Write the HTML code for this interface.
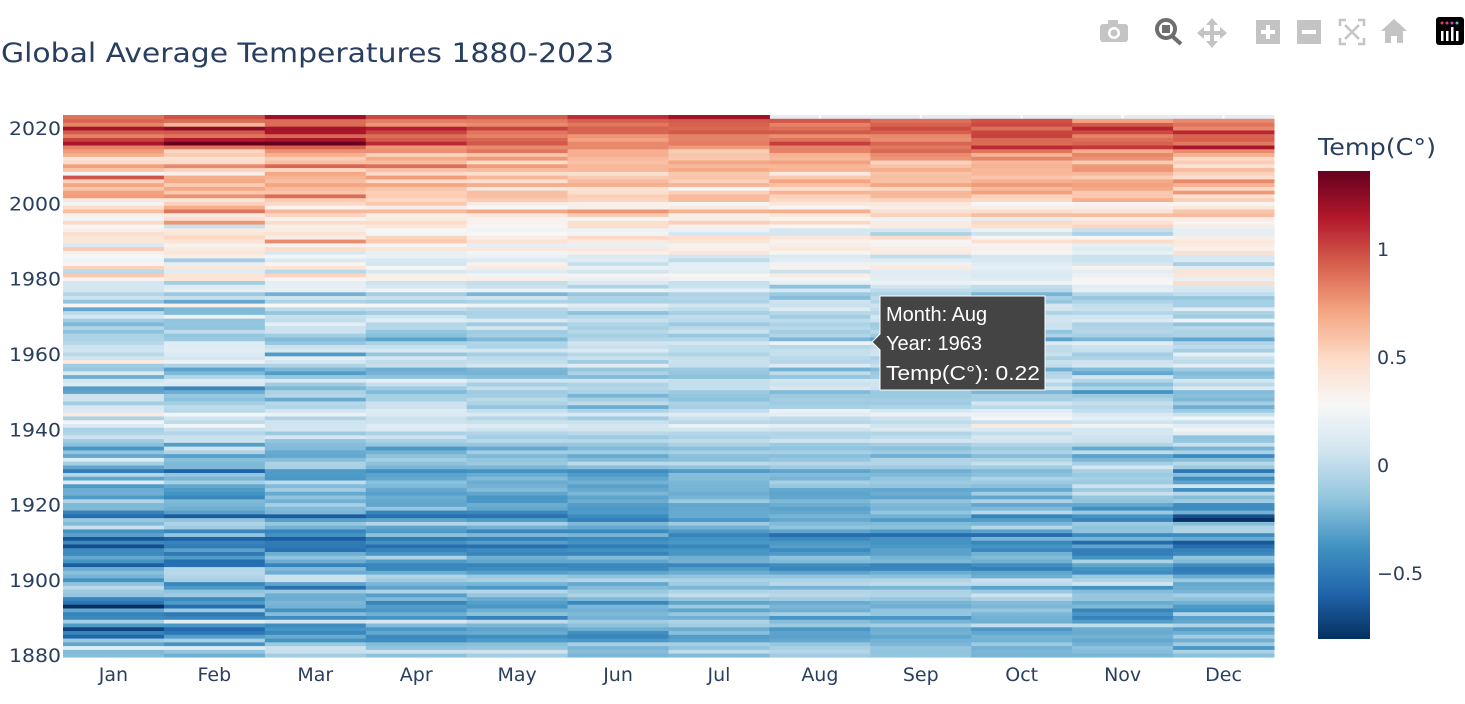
<!DOCTYPE html>
<html><head><meta charset="utf-8">
<style>
body{margin:0;background:#fff;width:1465px;height:700px;overflow:hidden;font-family:"DejaVu Sans",sans-serif;}
svg text{font-family:"DejaVu Sans",sans-serif;}
svg text.tt{font-family:"Liberation Sans",sans-serif;}
</style></head>
<body>
<svg id="chart" width="1465" height="700" xmlns="http://www.w3.org/2000/svg">
<text x="1" y="62" font-size="27" fill="#2a3f5f" textLength="613" lengthAdjust="spacingAndGlyphs">Global Average Temperatures 1880-2023</text>
<g id="modebar" fill="#c4c4c4">
 <g><rect x="1100" y="24" width="28" height="18" rx="3"/><rect x="1108" y="20" width="10" height="6" rx="1"/><circle cx="1114" cy="33" r="6" fill="#fff"/><circle cx="1114" cy="33" r="3.5"/></g>
 <g><circle cx="1166" cy="29" r="9" fill="none" stroke="#6e6e6e" stroke-width="4"/><rect x="1162" y="25" width="8" height="8" fill="#6e6e6e"/><line x1="1172" y1="36" x2="1181" y2="44" stroke="#6e6e6e" stroke-width="4"/></g>
 <g><path d="M1212 18 l6 7 h-4 v6 h6 v-4 l7 6 -7 6 v-4 h-6 v6 h4 l-6 7 -6 -7 h4 v-6 h-6 v4 l-7 -6 7 -6 v4 h6 v-6 h-4z"/></g>
 <g><rect x="1256" y="20" width="24" height="24"/><rect x="1266" y="25" width="4" height="14" fill="#fff"/><rect x="1261" y="30" width="14" height="4" fill="#fff"/></g>
 <g><rect x="1297" y="20" width="24" height="24"/><rect x="1302" y="30" width="14" height="4" fill="#fff"/></g>
 <g fill="none" stroke="#c4c4c4" stroke-width="2.5"><path d="M1340 26 v-6 h6 M1358 20 h6 v6 M1364 38 v6 h-6 M1346 44 h-6 v-6 M1345 25 l14 14 M1359 25 l-14 14"/></g>
 <g><path d="M1394 19 l13 12 h-4 v12 h-6 v-7 h-6 v7 h-6 v-12 h-4z"/></g>
 <g><rect x="1436" y="17" width="28" height="28" rx="3" fill="#000"/><rect x="1441" y="31" width="2.5" height="10" fill="#fff"/><rect x="1446" y="31" width="2.5" height="10" fill="#fff"/><rect x="1451" y="27" width="2.5" height="14" fill="#fff"/><rect x="1456" y="31" width="2.5" height="10" fill="#fff"/><circle cx="1442" cy="23" r="1.5" fill="#e23b6b"/><circle cx="1447" cy="23" r="1.5" fill="#e23b6b"/><circle cx="1452" cy="23" r="1.5" fill="#b54bd6"/><circle cx="1457" cy="23" r="1.5" fill="#3fc1e0"/></g>
</g>
<rect x="63" y="115" width="1211" height="543" fill="#E5ECF6"/>
<g id="grid"></g>
<g id="cells"></g>
<g id="yaxis"></g>
<g id="xaxis"></g>
<defs><linearGradient id="cbgrad" x1="0" y1="1" x2="0" y2="0"></linearGradient></defs>
<text x="1318" y="155" font-size="23" fill="#2a3f5f" textLength="118" lengthAdjust="spacingAndGlyphs">Temp(C°)</text>
<rect x="1318" y="171" width="52" height="468" fill="url(#cbgrad)"/>
<g id="cbticks"></g>
<g>
 <path d="M880 296 h165 v94 h-165 v-40 l-8 -8 8 -8z" fill="#444" stroke="#fff" stroke-width="1"/>
 <text class="tt" x="886" y="321" font-size="20" fill="#fff">Month: Aug</text>
 <text class="tt" x="886" y="350" font-size="20" fill="#fff">Year: 1963</text>
 <text class="tt" x="886" y="380" font-size="20" fill="#fff" textLength="154" lengthAdjust="spacingAndGlyphs">Temp(C°): 0.22</text>
</g>
</svg>
<script>
const months=["Jan","Feb","Mar","Apr","May","Jun","Jul","Aug","Sep","Oct","Nov","Dec"];
const startYear=1880;
const yTicks=[1880,1900,1920,1940,1960,1980,2000,2020];
const cbTicks=[-0.5,0,0.5,1];
const cbTickLabels=["\u22120.5","0","0.5","1"];
const zMin=-0.806, zMax=1.36;
const temps=[
[-0.19,-0.25,-0.10,-0.17,-0.10,-0.22,-0.20,-0.11,-0.15,-0.23,-0.22,-0.18],
[-0.20,-0.15,0.03,0.05,0.05,-0.19,0.00,-0.04,-0.16,-0.22,-0.19,-0.07],
[0.16,0.13,0.04,-0.16,-0.14,-0.22,-0.16,-0.08,-0.15,-0.24,-0.17,-0.36],
[-0.29,-0.37,-0.13,-0.19,-0.18,-0.08,-0.08,-0.14,-0.22,-0.12,-0.24,-0.11],
[-0.13,-0.08,-0.37,-0.40,-0.34,-0.35,-0.31,-0.28,-0.24,-0.24,-0.28,-0.25],
[-0.59,-0.33,-0.27,-0.42,-0.39,-0.44,-0.33,-0.31,-0.29,-0.23,-0.24,-0.10],
[-0.44,-0.51,-0.43,-0.28,-0.27,-0.39,-0.18,-0.30,-0.24,-0.28,-0.27,-0.25],
[-0.72,-0.57,-0.36,-0.35,-0.30,-0.25,-0.26,-0.35,-0.26,-0.35,-0.26,-0.33],
[-0.34,-0.36,-0.41,-0.20,-0.22,-0.17,-0.10,-0.12,-0.09,0.02,0.00,-0.05],
[-0.09,0.16,0.06,0.10,-0.01,-0.10,-0.07,-0.19,-0.23,-0.25,-0.33,-0.29],
[-0.42,-0.45,-0.41,-0.37,-0.46,-0.24,-0.25,-0.36,-0.36,-0.24,-0.45,-0.31],
[-0.45,-0.50,-0.19,-0.25,-0.17,-0.21,-0.14,-0.09,-0.15,-0.22,-0.36,-0.05],
[-0.28,-0.13,-0.38,-0.35,-0.25,-0.24,-0.30,-0.25,-0.16,-0.14,-0.44,-0.37],
[-0.81,-0.56,-0.24,-0.33,-0.36,-0.22,-0.12,-0.22,-0.25,-0.22,-0.21,-0.34],
[-0.52,-0.34,-0.22,-0.44,-0.32,-0.43,-0.30,-0.27,-0.23,-0.20,-0.27,-0.24],
[-0.44,-0.42,-0.26,-0.20,-0.27,-0.20,-0.14,-0.10,-0.14,-0.07,-0.14,-0.17],
[-0.15,-0.11,-0.26,-0.32,-0.15,-0.06,0.01,-0.03,-0.05,0.05,-0.14,-0.09],
[-0.12,-0.16,-0.13,-0.06,-0.04,-0.13,-0.06,-0.05,-0.06,-0.13,-0.19,-0.23],
[-0.02,-0.34,-0.54,-0.30,-0.35,-0.19,-0.22,-0.23,-0.22,-0.31,-0.37,-0.26],
[-0.16,-0.43,-0.30,-0.22,-0.23,-0.28,-0.11,-0.03,-0.01,-0.01,0.06,-0.28],
[-0.37,-0.08,0.04,-0.11,-0.08,-0.04,-0.07,-0.06,-0.05,0.04,-0.06,-0.13],
[-0.23,-0.05,0.04,-0.05,-0.13,-0.17,-0.16,-0.16,-0.18,-0.26,-0.13,-0.27],
[-0.18,-0.02,-0.26,-0.26,-0.32,-0.30,-0.26,-0.30,-0.26,-0.29,-0.40,-0.46],
[-0.26,-0.04,-0.20,-0.43,-0.40,-0.42,-0.33,-0.44,-0.43,-0.47,-0.37,-0.49],
[-0.63,-0.54,-0.45,-0.43,-0.45,-0.43,-0.43,-0.40,-0.44,-0.39,-0.29,-0.40],
[-0.37,-0.55,-0.26,-0.34,-0.29,-0.29,-0.24,-0.20,-0.21,-0.25,-0.07,-0.20],
[-0.28,-0.34,-0.16,-0.06,-0.25,-0.20,-0.25,-0.17,-0.24,-0.20,-0.38,-0.16],
[-0.42,-0.50,-0.25,-0.36,-0.44,-0.44,-0.36,-0.34,-0.31,-0.24,-0.47,-0.42],
[-0.41,-0.31,-0.53,-0.44,-0.40,-0.38,-0.36,-0.41,-0.31,-0.43,-0.47,-0.46],
[-0.69,-0.48,-0.50,-0.55,-0.54,-0.49,-0.43,-0.33,-0.35,-0.37,-0.30,-0.55],
[-0.42,-0.45,-0.49,-0.38,-0.33,-0.37,-0.35,-0.35,-0.37,-0.43,-0.57,-0.65],
[-0.65,-0.61,-0.62,-0.49,-0.46,-0.42,-0.38,-0.42,-0.37,-0.23,-0.23,-0.27],
[-0.31,-0.15,-0.38,-0.17,-0.21,-0.23,-0.45,-0.55,-0.56,-0.56,-0.41,-0.40],
[-0.38,-0.43,-0.44,-0.34,-0.43,-0.42,-0.34,-0.30,-0.34,-0.31,-0.16,-0.05],
[0.03,-0.11,-0.24,-0.30,-0.24,-0.28,-0.24,-0.16,-0.17,-0.04,-0.16,-0.06],
[-0.20,-0.06,-0.14,-0.04,-0.08,-0.21,-0.12,-0.20,-0.20,-0.22,-0.12,-0.19],
[-0.13,-0.16,-0.32,-0.30,-0.34,-0.47,-0.35,-0.28,-0.34,-0.33,-0.45,-0.80],
[-0.55,-0.64,-0.63,-0.54,-0.53,-0.41,-0.27,-0.23,-0.24,-0.45,-0.37,-0.68],
[-0.46,-0.32,-0.22,-0.44,-0.43,-0.34,-0.27,-0.28,-0.15,-0.03,-0.13,-0.24],
[-0.21,-0.25,-0.20,-0.14,-0.28,-0.35,-0.28,-0.31,-0.23,-0.21,-0.39,-0.41],
[-0.21,-0.23,-0.09,-0.29,-0.26,-0.33,-0.29,-0.26,-0.21,-0.28,-0.28,-0.40],
[-0.05,-0.20,-0.24,-0.28,-0.35,-0.26,-0.12,-0.21,-0.16,-0.06,-0.16,-0.11],
[-0.34,-0.43,-0.16,-0.26,-0.36,-0.30,-0.23,-0.29,-0.30,-0.29,-0.14,-0.19],
[-0.25,-0.37,-0.27,-0.32,-0.29,-0.22,-0.26,-0.30,-0.26,-0.10,0.03,-0.03],
[-0.26,-0.34,-0.10,-0.28,-0.20,-0.28,-0.23,-0.28,-0.28,-0.28,-0.12,-0.39],
[-0.34,-0.28,-0.20,-0.21,-0.24,-0.31,-0.23,-0.14,-0.16,-0.18,0.04,0.07],
[0.13,-0.08,-0.01,-0.18,-0.26,-0.24,-0.22,-0.08,-0.12,-0.12,-0.12,-0.30],
[-0.30,-0.22,-0.35,-0.28,-0.20,-0.29,-0.19,-0.23,-0.15,-0.06,-0.09,-0.40],
[-0.04,-0.15,-0.34,-0.31,-0.27,-0.34,-0.19,-0.20,-0.21,-0.18,-0.13,-0.18],
[-0.48,-0.60,-0.34,-0.39,-0.37,-0.40,-0.34,-0.30,-0.25,-0.20,-0.08,-0.51],
[-0.29,-0.21,-0.08,-0.22,-0.22,-0.18,-0.16,-0.11,-0.11,-0.10,0.08,-0.12],
[-0.09,-0.21,-0.07,-0.17,-0.13,-0.02,-0.02,-0.04,-0.05,0.02,-0.09,-0.03],
[0.13,-0.18,-0.19,-0.09,-0.15,-0.20,-0.18,-0.14,-0.05,-0.07,-0.22,-0.19],
[-0.28,-0.32,-0.28,-0.17,-0.21,-0.27,-0.18,-0.18,-0.25,-0.19,-0.31,-0.42],
[-0.16,-0.06,-0.27,-0.24,-0.10,-0.11,-0.08,-0.09,-0.11,-0.07,-0.01,-0.07],
[-0.36,0.06,-0.20,-0.35,-0.28,-0.20,-0.18,-0.16,-0.17,-0.12,-0.28,-0.23],
[-0.18,-0.33,-0.19,-0.14,-0.14,-0.14,-0.07,-0.13,-0.10,-0.05,-0.05,0.03],
[-0.11,0.04,-0.16,-0.08,-0.03,-0.03,0.00,0.05,0.07,0.06,0.04,-0.15],
[0.05,0.03,0.09,0.05,-0.10,-0.12,-0.07,-0.04,0.00,0.10,0.05,-0.16],
[-0.05,-0.04,-0.13,-0.07,-0.05,-0.02,-0.04,-0.05,-0.05,0.01,0.09,0.16],
[-0.08,0.02,0.06,0.12,0.05,0.07,0.06,0.05,0.12,0.12,0.08,0.24],
[0.11,0.25,0.06,0.14,0.13,0.08,0.20,0.17,0.06,0.37,0.23,0.16],
[0.26,0.00,0.06,0.05,0.04,0.04,-0.02,-0.03,0.00,0.03,0.06,0.02],
[-0.07,0.06,-0.06,0.04,-0.04,-0.11,0.04,0.00,0.05,0.26,0.17,0.25],
[0.37,0.25,0.21,0.12,0.11,0.10,0.14,0.17,0.22,0.21,0.12,0.04],
[0.11,-0.03,0.06,0.13,0.02,-0.06,0.01,0.21,0.10,0.14,0.01,-0.13],
[0.09,0.00,-0.05,0.05,-0.15,-0.26,-0.08,-0.08,-0.06,-0.02,-0.03,-0.25],
[-0.10,-0.09,-0.03,0.05,-0.06,-0.01,-0.07,-0.11,-0.11,0.07,0.02,-0.10],
[0.05,-0.17,-0.27,-0.08,-0.02,-0.09,-0.17,-0.10,-0.10,-0.09,-0.07,-0.21],
[0.05,-0.14,-0.04,-0.09,-0.10,-0.22,-0.15,-0.12,-0.13,-0.08,-0.13,-0.18],
[-0.30,-0.26,-0.07,-0.20,-0.11,-0.07,-0.12,-0.20,-0.13,-0.22,-0.37,-0.20],
[-0.33,-0.43,-0.21,-0.11,0.02,-0.04,0.02,0.10,0.05,0.08,-0.06,0.11],
[0.13,0.12,-0.11,0.02,-0.09,-0.06,0.02,0.04,0.06,-0.04,-0.18,-0.02],
[0.07,0.13,0.11,0.18,0.06,0.06,0.02,0.08,0.07,0.07,-0.05,0.07],
[-0.26,-0.05,-0.15,-0.17,-0.19,-0.20,-0.17,-0.15,-0.10,-0.03,0.07,-0.17],
[0.12,-0.21,-0.33,-0.23,-0.23,-0.07,-0.14,0.00,-0.12,-0.05,-0.28,-0.20],
[-0.14,-0.31,-0.21,-0.26,-0.22,-0.14,-0.13,-0.24,-0.19,-0.25,-0.20,-0.11],
[-0.11,-0.06,-0.06,0.02,0.08,0.16,0.02,0.11,0.03,0.01,0.07,0.15],
[0.38,0.21,0.08,0.00,0.01,-0.11,0.04,-0.04,-0.03,0.03,0.05,-0.01],
[0.06,0.08,0.17,0.09,-0.01,0.04,0.02,-0.02,-0.06,-0.07,-0.06,0.03],
[-0.02,0.11,-0.34,-0.15,-0.09,-0.03,-0.05,0.02,0.06,0.03,-0.10,0.18],
[0.06,0.16,0.09,0.10,0.08,0.11,0.00,0.02,0.05,0.00,0.02,-0.09],
[0.05,0.14,0.04,0.02,-0.06,0.03,0.01,-0.03,0.00,0.00,0.05,0.00],
[-0.03,0.14,-0.14,-0.07,-0.05,0.06,0.07,0.22,0.15,0.11,0.14,-0.05],
[-0.06,-0.13,-0.20,-0.31,-0.21,-0.04,-0.04,-0.22,-0.30,-0.31,-0.22,-0.29],
[-0.07,-0.15,-0.10,-0.18,-0.09,-0.09,-0.14,-0.05,-0.12,-0.06,-0.08,-0.07],
[-0.17,-0.01,0.05,-0.15,-0.11,-0.03,0.04,-0.10,-0.03,-0.16,-0.04,-0.06],
[-0.05,-0.16,0.04,-0.03,0.08,-0.08,-0.02,-0.03,-0.09,0.04,-0.05,-0.03],
[-0.21,-0.15,0.17,-0.04,-0.11,-0.05,-0.12,-0.07,-0.11,0.04,-0.07,-0.16],
[-0.11,-0.16,0.01,0.14,0.12,0.03,-0.02,0.00,0.04,0.06,0.12,0.23],
[0.09,0.22,0.02,0.06,-0.06,-0.02,0.01,-0.10,0.08,0.05,0.06,-0.11],
[-0.02,-0.20,-0.15,-0.10,-0.07,-0.17,-0.09,-0.03,-0.03,-0.06,-0.04,-0.07],
[-0.28,-0.21,0.00,0.01,-0.04,0.05,0.00,0.13,0.01,0.07,0.03,0.16],
[0.30,0.34,0.28,0.26,0.21,0.16,0.07,0.03,0.05,0.09,0.01,-0.09],
[-0.16,-0.28,-0.06,-0.09,-0.06,-0.07,-0.06,0.05,-0.04,-0.14,-0.06,-0.09],
[0.05,0.03,0.06,0.04,0.06,-0.05,-0.04,-0.19,-0.01,-0.08,-0.14,-0.14],
[-0.04,-0.13,-0.24,-0.10,-0.22,-0.14,-0.06,-0.13,-0.07,-0.23,-0.04,0.01],
[0.08,0.18,0.20,0.24,0.21,0.21,0.17,0.08,-0.01,-0.03,0.18,0.08],
[0.08,0.13,0.18,0.10,0.03,-0.06,0.04,-0.17,0.06,0.01,0.15,0.10],
[0.09,-0.10,0.17,0.05,0.01,0.12,0.02,0.18,0.22,0.24,0.26,0.48],
[0.31,0.42,0.29,0.33,0.35,0.19,0.23,0.25,0.16,0.14,0.30,0.18],
[0.57,0.42,0.52,0.34,0.24,0.30,0.30,0.36,0.15,0.11,0.21,0.40],
[-0.02,0.14,-0.03,0.10,0.13,0.06,0.15,0.04,0.14,0.13,0.16,0.43],
[0.53,0.41,0.42,0.29,0.37,0.20,0.17,0.32,0.38,0.18,0.32,0.16],
[0.31,0.17,0.31,0.08,0.32,0.02,0.17,0.22,0.22,0.15,0.09,-0.08],
[0.23,-0.10,0.11,0.10,0.11,0.14,0.00,0.16,0.13,0.10,0.04,0.12],
[0.27,0.35,0.25,0.20,0.20,0.12,0.07,0.11,0.01,0.09,0.04,0.09],
[0.32,0.41,0.10,0.19,0.25,0.33,0.40,0.26,0.36,0.29,0.20,0.45],
[0.56,0.38,0.48,0.41,0.40,0.39,0.34,0.39,0.36,0.33,0.13,0.33],
[0.12,0.32,0.32,0.30,0.17,0.20,0.32,0.35,0.32,0.31,0.18,0.38],
[0.41,0.43,0.79,0.56,0.44,0.37,0.42,0.33,0.29,0.45,0.49,0.41],
[0.41,0.51,0.35,0.53,0.36,0.50,0.46,0.41,0.47,0.30,0.28,0.34],
[0.47,0.42,0.44,0.25,0.28,0.24,0.08,0.09,-0.07,0.05,-0.06,0.17],
[0.35,0.37,0.36,0.28,0.23,0.22,0.21,0.09,0.09,0.21,0.02,0.17],
[0.26,0.03,0.34,0.41,0.29,0.47,0.33,0.27,0.37,0.45,0.52,0.36],
[0.50,0.76,0.48,0.48,0.32,0.47,0.54,0.51,0.37,0.50,0.44,0.31],
[0.25,0.46,0.31,0.37,0.32,0.28,0.35,0.30,0.23,0.16,0.35,0.36],
[0.33,0.37,0.52,0.34,0.39,0.56,0.34,0.41,0.53,0.61,0.61,0.62],
[0.61,0.86,0.63,0.63,0.70,0.76,0.66,0.67,0.45,0.47,0.44,0.58],
[0.48,0.68,0.32,0.35,0.28,0.34,0.37,0.30,0.35,0.35,0.35,0.41],
[0.24,0.53,0.50,0.57,0.37,0.34,0.29,0.41,0.40,0.27,0.31,0.29],
[0.41,0.42,0.56,0.50,0.56,0.52,0.62,0.50,0.52,0.50,0.68,0.54],
[0.74,0.77,0.89,0.55,0.60,0.54,0.62,0.53,0.63,0.53,0.57,0.43],
[0.72,0.57,0.58,0.54,0.61,0.47,0.54,0.65,0.64,0.72,0.57,0.75],
[0.58,0.70,0.62,0.58,0.39,0.44,0.27,0.45,0.50,0.63,0.70,0.50],
[0.71,0.55,0.71,0.71,0.68,0.67,0.65,0.60,0.71,0.74,0.72,0.66],
[0.53,0.70,0.61,0.49,0.46,0.62,0.53,0.71,0.60,0.67,0.70,0.80],
[0.97,0.68,0.65,0.74,0.64,0.56,0.59,0.57,0.61,0.58,0.55,0.47],
[0.26,0.35,0.70,0.49,0.47,0.45,0.57,0.38,0.59,0.64,0.64,0.53],
[0.59,0.52,0.50,0.60,0.62,0.64,0.70,0.65,0.68,0.63,0.76,0.62],
[0.73,0.80,0.91,0.88,0.74,0.64,0.63,0.64,0.59,0.66,0.75,0.44],
[0.49,0.48,0.60,0.61,0.49,0.60,0.71,0.72,0.52,0.63,0.55,0.55],
[0.43,0.44,0.55,0.69,0.75,0.62,0.57,0.63,0.76,0.81,0.77,0.49],
[0.68,0.56,0.67,0.53,0.58,0.67,0.58,0.66,0.79,0.66,0.81,0.67],
[0.74,0.51,0.77,0.78,0.86,0.67,0.55,0.82,0.90,0.86,0.68,0.79],
[0.82,0.86,0.92,0.75,0.79,0.80,0.74,0.82,0.85,1.09,1.05,1.17],
[1.17,1.36,1.36,1.09,0.95,0.80,0.84,1.03,0.91,0.89,0.92,0.85],
[1.02,1.14,1.17,0.94,0.91,0.72,0.82,0.87,0.78,0.90,0.88,0.93],
[0.82,0.86,0.90,0.88,0.82,0.76,0.82,0.78,0.80,1.02,0.82,0.91],
[0.94,0.95,1.17,1.01,0.86,0.91,0.95,0.95,0.93,1.01,0.99,1.10],
[1.18,1.25,1.18,1.13,1.02,0.92,0.90,0.88,0.99,0.88,1.11,0.80],
[0.81,0.64,0.89,0.76,0.79,0.85,0.92,0.82,0.92,1.00,0.94,0.86],
[0.91,0.89,0.89,0.83,0.84,0.92,0.94,0.95,0.88,0.97,0.72,0.80],
[0.87,0.97,1.20,1.00,0.94,1.08,1.19,null,null,null,null,null]
];
const scale=[[5,48,97],[33,102,172],[67,147,195],[146,197,222],[209,229,240],[247,247,247],[253,219,199],[244,165,130],[214,96,77],[178,24,43],[103,0,31]];
function color(v){let t=(v-zMin)/(zMax-zMin);t=Math.max(0,Math.min(1,t));const p=t*(scale.length-1);const i=Math.min(scale.length-2,Math.floor(p));const f=p-i;const a=scale[i],b=scale[i+1];return `rgb(${Math.round(a[0]+(b[0]-a[0])*f)},${Math.round(a[1]+(b[1]-a[1])*f)},${Math.round(a[2]+(b[2]-a[2])*f)})`;}
const NS="http://www.w3.org/2000/svg";
const X0=63,X1=1274,Y0=115,Y1=657;
const nYears=temps.length;
const colW=(X1-X0)/months.length;
const rowH=(Y1-Y0)/nYears;
function xScale(m){return X0+m*colW;}
function yScale(yr){return Y1-(yr-startYear+0.5)*rowH;}
function cbScale(v){return 639-(v-zMin)/(zMax-zMin)*468;}
const grid=document.getElementById('grid');
months.forEach((m,i)=>{const l=document.createElementNS(NS,'line');l.setAttribute('x1',xScale(i+0.5));l.setAttribute('x2',xScale(i+0.5));l.setAttribute('y1',Y0);l.setAttribute('y2',Y1);l.setAttribute('stroke','#fff');l.setAttribute('stroke-width','2');


grid.appendChild(l);});
const cells=document.getElementById('cells');
temps.forEach((row,r)=>{const yr=startYear+r;row.forEach((v,c)=>{if(v===null)return;const rc=document.createElementNS(NS,'rect');rc.setAttribute('x',xScale(c));rc.setAttribute('y',(yScale(yr)-rowH/2).toFixed(2));rc.setAttribute('width',(colW+0.5).toFixed(2));rc.setAttribute('height',(rowH+0.4).toFixed(2));rc.setAttribute('fill',color(v));


cells.appendChild(rc);});});
const ya=document.getElementById('yaxis');
yTicks.forEach(y=>{const t=document.createElementNS(NS,'text');t.setAttribute('x',61);t.setAttribute('y',yScale(y)+7);t.setAttribute('text-anchor','end');t.setAttribute('font-size','19');t.setAttribute('fill','#2a3f5f');t.setAttribute('textLength','52');t.setAttribute('lengthAdjust','spacingAndGlyphs');t.textContent=y;


ya.appendChild(t);});
const xa=document.getElementById('xaxis');
months.forEach((m,i)=>{const t=document.createElementNS(NS,'text');t.setAttribute('x',xScale(i+0.5));t.setAttribute('y',681);t.setAttribute('text-anchor','middle');t.setAttribute('font-size','19');t.setAttribute('fill','#2a3f5f');t.textContent=m;


xa.appendChild(t);});
const grad=document.getElementById('cbgrad');
scale.forEach((c,i)=>{const s=document.createElementNS(NS,'stop');s.setAttribute('offset',(i/(scale.length-1)*100)+'%');s.setAttribute('stop-color',`rgb(${c[0]},${c[1]},${c[2]})`);grad.appendChild(s);});
const cbt=document.getElementById('cbticks');
cbTicks.forEach((v,i)=>{const t=document.createElementNS(NS,'text');t.setAttribute('x',1377);t.setAttribute('y',cbScale(v)+7);t.setAttribute('font-size','19');t.setAttribute('fill','#2a3f5f');t.textContent=cbTickLabels[i];


cbt.appendChild(t);});
</script>
</body></html>
